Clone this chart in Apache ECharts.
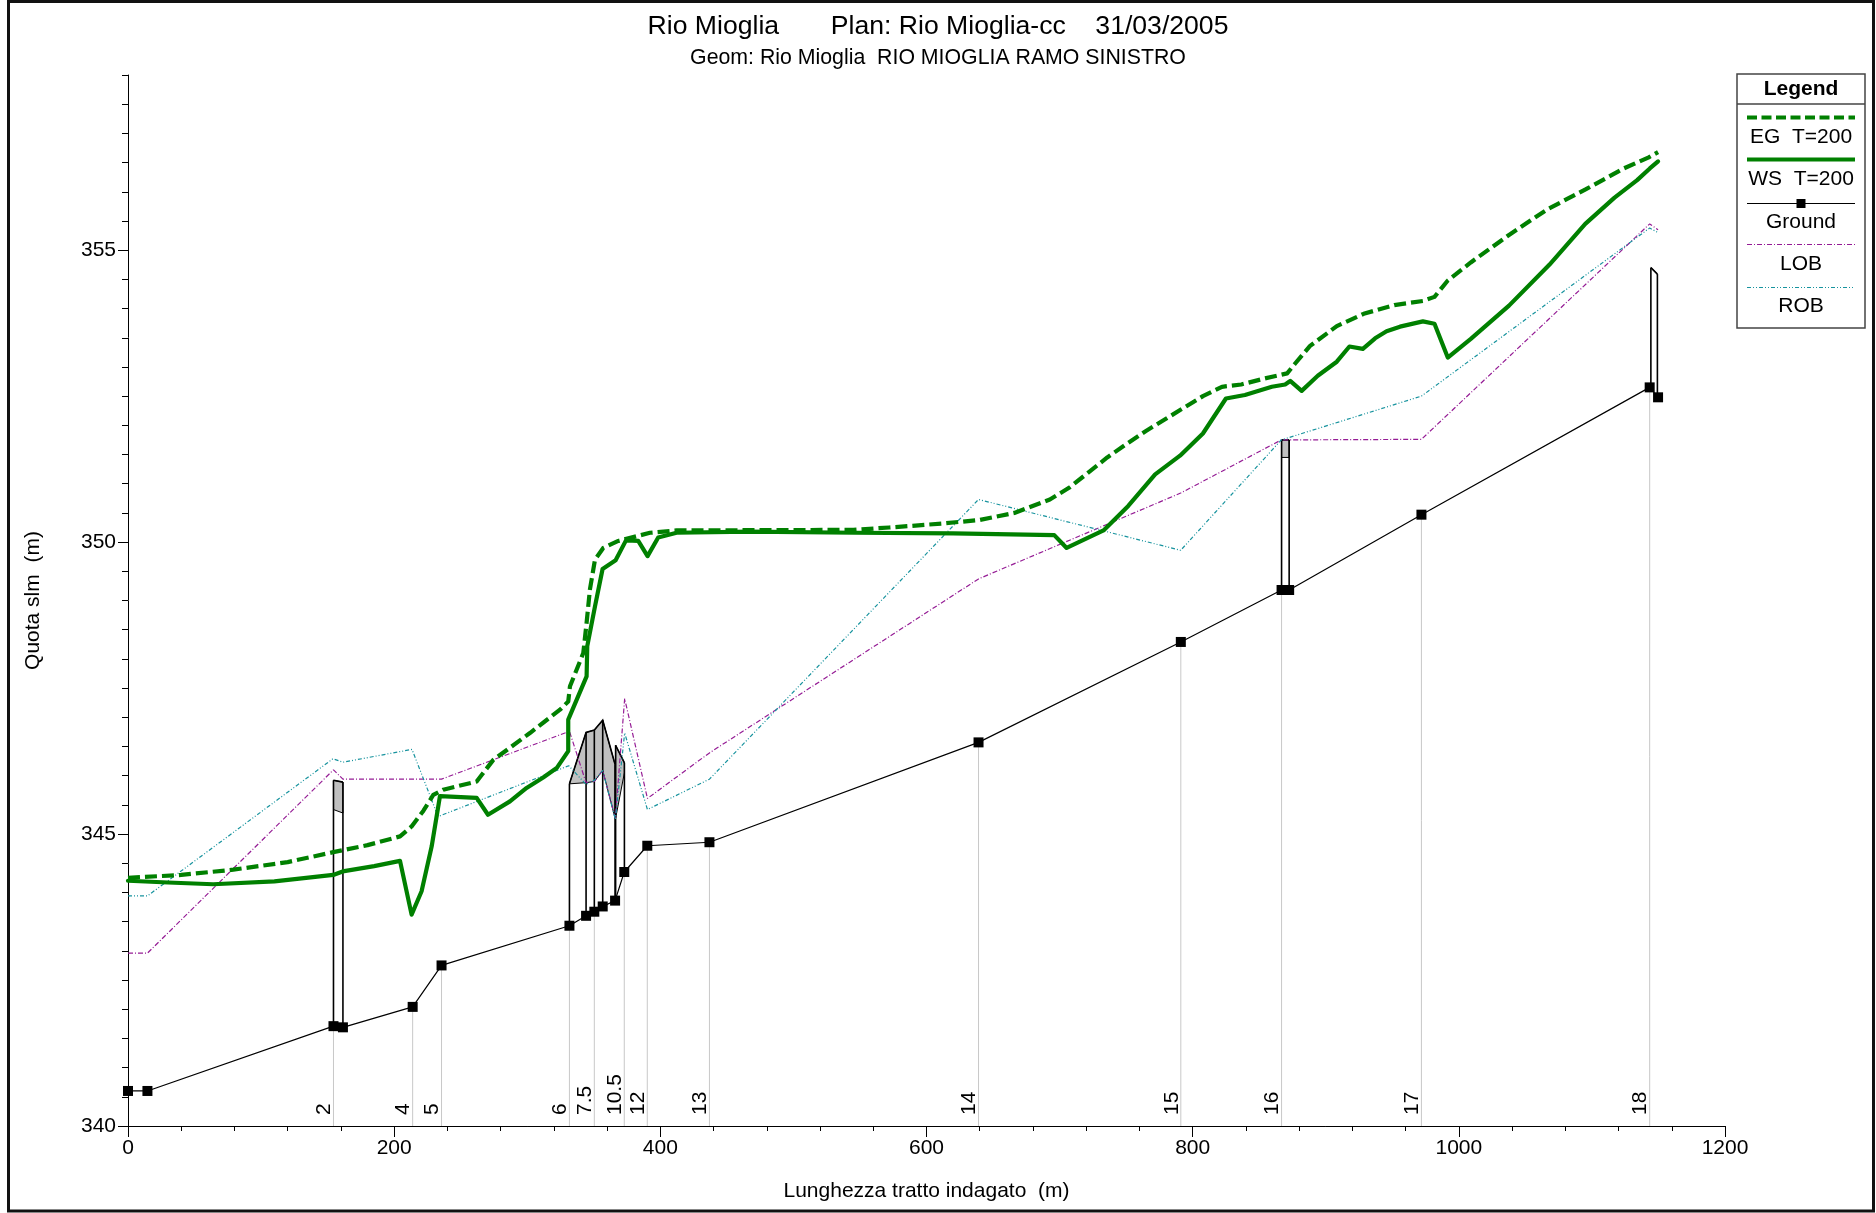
<!DOCTYPE html>
<html>
<head>
<meta charset="utf-8">
<title>Rio Mioglia - profilo longitudinale</title>
<script src="https://cdn.jsdelivr.net/npm/echarts@6/dist/echarts.min.js"></script>
<style>
  html, body { margin: 0; padding: 0; background: #fff; }
  #chart { width: 1876px; height: 1213px; }
</style>
</head>
<body>
<div id="chart"></div>
<script>
// ---- Profile data (progressive distance in m, elevation in m s.l.m.) ----
const wsX = [0, 30, 64, 110, 154.2, 161.3, 185, 204.4, 213.1, 220.6, 228.2, 234.4, 262, 270.5, 287, 299.5, 312, 322.1, 330.8, 330.8,
  344.6, 345.1, 350.9, 356.6, 366.4, 374.2, 383.4, 390.4, 398.4, 412.2, 467, 546, 620, 696, 705.3, 733, 751.6, 771.8, 790.5, 807.7,
  825, 839.3, 859.5, 869.5, 873.3, 881.9, 894, 908.3, 917.8, 927.9, 937.1, 945.7, 955.8, 973, 981.7, 991.7, 1009, 1037.7, 1068, 1095,
  1117, 1134, 1143.5, 1149.7];
const wsY = [344.20, 344.17, 344.14, 344.19, 344.30, 344.36, 344.45, 344.54, 343.62, 344.02, 344.79, 345.65, 345.62, 345.33, 345.56, 345.79, 345.97, 346.13, 346.42, 346.96,
  347.70, 348.22, 348.90, 349.54, 349.69, 350.03, 350.02, 349.76, 350.08, 350.16, 350.18, 350.16, 350.15, 350.12, 349.90, 350.20, 350.62, 351.16, 351.48, 351.86,
  352.46, 352.52, 352.66, 352.70, 352.76, 352.59, 352.85, 353.09, 353.35, 353.31, 353.49, 353.61, 353.69, 353.78, 353.74, 353.16, 353.48, 354.05, 354.75, 355.45,
  355.90, 356.20, 356.40, 356.52];

const egX = [0, 40, 79.1, 120, 154.2, 180, 204.4, 213.1, 222, 229.4, 236.9, 262, 274.5, 302, 324.6, 330.8, 332.1, 342.1, 344.6, 347.1,
  350.9, 357.1, 368.4, 392.2, 412.2, 545, 572, 613, 640, 666, 692.7, 707.1, 721.5, 735.8, 750.2, 764.6, 779, 793.3, 807.7, 822,
  836.5, 853.7, 871, 876.7, 888.2, 908.3, 928.5, 951.5, 973, 981.7, 991.7, 1009, 1037.7, 1066.5, 1095.2, 1124, 1142.7, 1149.7];
const egY = [344.25, 344.30, 344.39, 344.52, 344.69, 344.81, 344.96, 345.13, 345.40, 345.67, 345.76, 345.90, 346.27, 346.73, 347.13, 347.27, 347.53, 348.10, 348.62, 349.19,
  349.70, 349.90, 350.02, 350.16, 350.20, 350.21, 350.25, 350.32, 350.38, 350.50, 350.73, 350.93, 351.19, 351.45, 351.68, 351.90, 352.10, 352.30, 352.50, 352.66,
  352.70, 352.80, 352.89, 353.05, 353.36, 353.70, 353.91, 354.06, 354.13, 354.20, 354.48, 354.79, 355.26, 355.70, 356.04, 356.40, 356.59, 356.68];

const groundX = [0, 14.6, 154.4, 161.5, 213.9, 235.6, 331.7, 344.2, 350.4, 356.7, 366.0, 372.9, 390.2, 436.9, 639.1, 791.1, 866.8, 872.5, 971.9, 1143.4, 1149.7];
const groundY = [340.60, 340.60, 341.71, 341.69, 342.04, 342.75, 343.43, 343.60, 343.67, 343.76, 343.86, 344.35, 344.80, 344.86, 346.57, 348.29, 349.18, 349.18, 350.47, 352.65, 352.48];

const lobX = [0, 14.6, 154.4, 161.5, 213.9, 235.6, 331.7, 344.2, 350.4, 356.7, 366.2, 373.2, 390.3, 436.9, 639.1, 791.0, 866.6, 971.9, 1143.4, 1149.7];
const lobY = [342.96, 342.96, 346.10, 345.94, 345.94, 345.94, 346.76, 345.88, 345.90, 346.09, 345.27, 347.32, 345.61, 346.39, 349.37, 350.84, 351.75, 351.76, 355.45, 355.35];

const robX = [0, 14.6, 154.0, 161.5, 213.4, 233.0, 331.2, 344.2, 350.4, 356.7, 366.2, 373.2, 390.3, 436.9, 639.1, 791.0, 866.6, 971.9, 1143.4, 1149.7];
const robY = [343.94, 343.94, 346.29, 346.23, 346.45, 345.30, 346.17, 345.85, 345.92, 346.09, 345.25, 346.73, 345.42, 345.94, 350.73, 349.86, 351.75, 352.50, 355.38, 355.30];

// River stations shown along the bottom of the profile
const stationX = [154.4, 213.9, 235.6, 331.7, 350.4, 372.9, 390.2, 436.9, 639.1, 791.1, 866.8, 971.9, 1143.4];
const stationLabel = ['2', '4', '5', '6', '7.5', '10.5', '12', '13', '14', '15', '16', '17', '18'];
const stationGround = [341.71, 342.04, 342.75, 343.43, 343.67, 344.35, 344.80, 344.86, 346.57, 348.29, 349.18, 350.47, 352.65];

// Bridges / culverts: section positions, bed, deck top and low chord
const structX = [[154.4, 161.5], [331.7, 344.2, 350.4, 356.7, 366.0], [366.4, 373.0], [866.8, 872.5], [1144.3, 1149.2]];
const structGround = [[341.71, 341.69], [343.43, 343.60, 343.67, 343.76, 343.86], [343.86, 344.35], [349.18, 349.18], [352.65, 352.48]];
const structTop = [[345.92, 345.89], [345.86, 346.74, 346.78, 346.95, 346.19], [346.52, 346.22], [351.75, 351.75], [354.70, 354.59]];
const structLow = [[345.42, 345.36], [345.86, 345.88, 345.90, 346.09, 345.27], [345.27, 346.05], [351.45, 351.45], [354.70, 354.59]];

// Axis ticks
const yMajorTicks = [340, 345, 350, 355];

const FONT = '"Liberation Sans", Arial, sans-serif';
const GREEN = '#008000';
const LOB_COLOR = '#951c95';
const ROB_COLOR = '#17939e';

const pairs = (xs, ys) => xs.map((x, i) => [x, ys[i]]);

function renderStation(params, api) {
  const x = api.value(0), g = api.value(1);
  const p0 = api.coord([x, 340]);
  const p1 = api.coord([x, g]);
  return {
    type: 'group',
    children: [
      { type: 'line', shape: { x1: p0[0], y1: p0[1], x2: p1[0], y2: p1[1] },
        style: { stroke: '#c8c8c8', lineWidth: 1 } },
      { type: 'text', x: p0[0] - 9, y: p0[1] - 11, rotation: Math.PI / 2,
        style: { text: stationLabel[params.dataIndex], fontSize: 21, fontFamily: FONT,
                 fill: '#000', align: 'left', verticalAlign: 'middle' } }
    ]
  };
}

function renderStructure(params, api) {
  const i = params.dataIndex;
  const xs = structX[i];
  const top = xs.map((x, k) => api.coord([x, structTop[i][k]]));
  const low = xs.map((x, k) => api.coord([x, structLow[i][k]]));
  const bot = xs.map((x, k) => api.coord([x, structGround[i][k]]));
  const children = [];
  children.push({ type: 'polygon', shape: { points: top.concat(low.slice().reverse()) },
                  style: { fill: '#c0c0c0', stroke: '#000', lineWidth: 1 } });
  xs.forEach((x, k) => {
    children.push({ type: 'line', shape: { x1: bot[k][0], y1: bot[k][1], x2: top[k][0], y2: top[k][1] },
                    style: { stroke: '#000', lineWidth: 1.6 } });
  });
  children.push({ type: 'polyline', shape: { points: top },
                  style: { stroke: '#000', lineWidth: 1.6, fill: null } });
  return { type: 'group', children };
}

// Legend box drawn at the top right
const LX = 1737, LW = 128;
const LC = LX + LW / 2;
function legendText(text, y, bold) {
  return { type: 'text', x: LC, y: y,
           style: { text, fontSize: 21, fontFamily: FONT, fontWeight: bold ? 'bold' : 'normal',
                    fill: '#000', align: 'center', verticalAlign: 'middle' } };
}
function legendLine(y, stroke, width, dash) {
  return { type: 'line', shape: { x1: 1747, y1: y, x2: 1855, y2: y },
           style: { stroke, lineWidth: width, lineDash: dash || null, lineCap: 'butt' } };
}

const chart = echarts.init(document.getElementById('chart'), null, { renderer: 'canvas' });
chart.setOption({
  animation: false,
  backgroundColor: '#fff',
  title: {
    text: 'Rio Mioglia       Plan: Rio Mioglia-cc    31/03/2005',
    subtext: 'Geom: Rio Mioglia  RIO MIOGLIA RAMO SINISTRO',
    left: 'center', top: 6, itemGap: 3,
    textStyle: { fontSize: 26.6, fontWeight: 'normal', color: '#000', fontFamily: FONT, lineHeight: 32 },
    subtextStyle: { fontSize: 21.3, color: '#000', fontFamily: FONT, lineHeight: 24 }
  },
  grid: { left: 128, top: 75, width: 1597, height: 1051, containLabel: false },
  xAxis: [{
    type: 'value', min: 0, max: 1200, interval: 200, position: 'bottom',
    name: 'Lunghezza tratto indagato  (m)', nameLocation: 'middle', nameGap: 55,
    nameTextStyle: { fontSize: 21, color: '#000', fontFamily: FONT },
    axisLine: { show: true, onZero: false, lineStyle: { color: '#000', width: 1 } },
    axisTick: { show: true, length: 11, lineStyle: { color: '#000', width: 1 } },
    minorTick: { show: true, splitNumber: 5, length: 5, lineStyle: { color: '#000', width: 1 } },
    axisLabel: { fontSize: 21, color: '#000', fontFamily: FONT, margin: 12, formatter: v => String(v) },
    splitLine: { show: false }, minorSplitLine: { show: false }
  }],
  yAxis: [{
    type: 'value', min: 340, max: 358, interval: 5, position: 'left',
    name: 'Quota slm  (m)', nameLocation: 'middle', nameGap: 84, nameRotate: 90,
    nameTextStyle: { fontSize: 21, color: '#000', fontFamily: FONT },
    axisLine: { show: true, onZero: false, lineStyle: { color: '#000', width: 1 } },
    axisTick: { show: true, length: 10, customValues: yMajorTicks, lineStyle: { color: '#000', width: 1 } },
    axisLabel: { customValues: yMajorTicks, fontSize: 21, color: '#000', fontFamily: FONT, margin: 12, formatter: v => String(v) },
    splitLine: { show: false }
  }, {
    type: 'value', min: 340, max: 358, interval: 0.5, position: 'left', offset: 0,
    axisLine: { show: false },
    axisTick: { show: true, length: 6, lineStyle: { color: '#000', width: 1 } },
    axisLabel: { show: false },
    splitLine: { show: false }
  }],
  series: [
    { type: 'custom', name: 'Stations', renderItem: renderStation, z: 1, silent: true,
      data: pairs(stationX, stationGround) },
    { type: 'custom', name: 'Structures', renderItem: renderStructure, z: 2, silent: true,
      data: structX.map((xs, i) => [xs[0], structTop[i][0]]) },
    { type: 'line', name: 'LOB', data: pairs(lobX, lobY), showSymbol: false, z: 3, silent: true,
      lineStyle: { color: LOB_COLOR, width: 1.2, type: [5, 2, 1, 2] } },
    { type: 'line', name: 'ROB', data: pairs(robX, robY), showSymbol: false, z: 3, silent: true,
      lineStyle: { color: ROB_COLOR, width: 1.2, type: [4, 2, 1, 2, 1, 2] } },
    { type: 'line', name: 'Ground', data: pairs(groundX, groundY), symbol: 'rect', symbolSize: 10, z: 4, silent: true,
      itemStyle: { color: '#000' }, lineStyle: { color: '#000', width: 1.2 } },
    { type: 'line', name: 'EG  T=200', data: pairs(egX, egY), showSymbol: false, z: 5, silent: true,
      lineStyle: { color: GREEN, width: 4.2, type: [12, 5], cap: 'butt', join: 'round' } },
    { type: 'line', name: 'WS  T=200', data: pairs(wsX, wsY), showSymbol: false, z: 6, silent: true,
      lineStyle: { color: GREEN, width: 4.2, join: 'round', cap: 'round' } }
  ],
  graphic: [
    { type: 'rect', silent: true, z: 100,
      shape: { x: 8.5, y: 1.5, width: 1865, height: 1209.5 },
      style: { fill: null, stroke: '#111', lineWidth: 3 } },
    { type: 'group', silent: true, z: 100, children: [
      { type: 'rect', shape: { x: LX, y: 74, width: LW, height: 254 },
        style: { fill: '#fff', stroke: '#444', lineWidth: 1.5 } },
      { type: 'line', shape: { x1: LX, y1: 104, x2: LX + LW, y2: 104 },
        style: { stroke: '#444', lineWidth: 1.5 } },
      legendText('Legend', 89, true),
      legendLine(117.5, GREEN, 4, [10, 4.5]),
      legendText('EG  T=200', 137),
      legendLine(159.5, GREEN, 4),
      legendText('WS  T=200', 179.5),
      legendLine(203.5, '#000', 1.2),
      { type: 'rect', shape: { x: LC - 4.5, y: 199, width: 9, height: 9 }, style: { fill: '#000' } },
      legendText('Ground', 222.5),
      legendLine(244.5, LOB_COLOR, 1.2, [5, 2, 1, 2]),
      legendText('LOB', 264),
      legendLine(287.5, ROB_COLOR, 1.2, [4, 2, 1, 2, 1, 2]),
      legendText('ROB', 306.5)
    ] }
  ]
});
</script>
</body>
</html>
